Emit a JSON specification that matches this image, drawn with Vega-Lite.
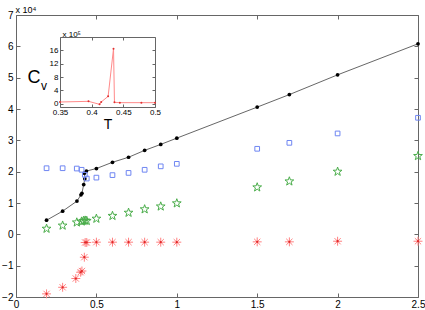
{
  "$schema": "https://vega.github.io/schema/vega-lite/v6.json",
  "width": 402,
  "height": 282,
  "autosize": {"type": "none"},
  "padding": {"left": 16, "top": 15, "right": 7, "bottom": 13},
  "background": "white",
  "config": {
    "view": {"stroke": "#666", "strokeWidth": 1},
    "font": "Liberation Sans",
    "axis": {"grid": false, "labelColor": "#000", "tickColor": "#666", "domainColor": "#666", "labelFlush": false, "titleFontWeight": "normal", "titleColor": "#000"}
  },
  "datasets": {
    "main": [
      {"s": "black", "i": 1, "T": 0.19, "C": 0.45},
      {"s": "black", "i": 2, "T": 0.29, "C": 0.74},
      {"s": "black", "i": 3, "T": 0.379, "C": 1.06},
      {"s": "black", "i": 4, "T": 0.404, "C": 1.26},
      {"s": "black", "i": 5, "T": 0.41, "C": 1.31},
      {"s": "black", "i": 6, "T": 0.421, "C": 1.59},
      {"s": "black", "i": 7, "T": 0.428, "C": 1.77},
      {"s": "black", "i": 8, "T": 0.425, "C": 1.95},
      {"s": "black", "i": 9, "T": 0.438, "C": 2.02},
      {"s": "black", "i": 10, "T": 0.5, "C": 2.1},
      {"s": "black", "i": 11, "T": 0.6, "C": 2.3},
      {"s": "black", "i": 12, "T": 0.7, "C": 2.46},
      {"s": "black", "i": 13, "T": 0.8, "C": 2.68},
      {"s": "black", "i": 14, "T": 0.9, "C": 2.87},
      {"s": "black", "i": 15, "T": 1.0, "C": 3.07},
      {"s": "black", "i": 16, "T": 1.5, "C": 4.06},
      {"s": "black", "i": 17, "T": 1.7, "C": 4.46},
      {"s": "black", "i": 18, "T": 2.0, "C": 5.09},
      {"s": "black", "i": 19, "T": 2.5, "C": 6.08},
      {"s": "blue", "T": 0.19, "C": 2.11},
      {"s": "blue", "T": 0.29, "C": 2.11},
      {"s": "blue", "T": 0.378, "C": 2.1},
      {"s": "blue", "T": 0.408, "C": 2.06},
      {"s": "blue", "T": 0.428, "C": 1.9},
      {"s": "blue", "T": 0.44, "C": 1.78},
      {"s": "blue", "T": 0.5, "C": 1.81},
      {"s": "blue", "T": 0.6, "C": 1.89},
      {"s": "blue", "T": 0.7, "C": 1.96},
      {"s": "blue", "T": 0.8, "C": 2.06},
      {"s": "blue", "T": 0.9, "C": 2.17},
      {"s": "blue", "T": 1.0, "C": 2.25},
      {"s": "blue", "T": 1.5, "C": 2.73},
      {"s": "blue", "T": 1.7, "C": 2.92},
      {"s": "blue", "T": 2.0, "C": 3.22},
      {"s": "blue", "T": 2.5, "C": 3.72},
      {"s": "green", "T": 0.19, "C": 0.18},
      {"s": "green", "T": 0.29, "C": 0.28},
      {"s": "green", "T": 0.378, "C": 0.38},
      {"s": "green", "T": 0.408, "C": 0.41},
      {"s": "green", "T": 0.42, "C": 0.43},
      {"s": "green", "T": 0.43, "C": 0.44},
      {"s": "green", "T": 0.44, "C": 0.43},
      {"s": "green", "T": 0.5, "C": 0.5},
      {"s": "green", "T": 0.6, "C": 0.59},
      {"s": "green", "T": 0.7, "C": 0.69},
      {"s": "green", "T": 0.8, "C": 0.8},
      {"s": "green", "T": 0.9, "C": 0.89},
      {"s": "green", "T": 1.0, "C": 0.99},
      {"s": "green", "T": 1.5, "C": 1.5},
      {"s": "green", "T": 1.7, "C": 1.69},
      {"s": "green", "T": 2.0, "C": 2.0},
      {"s": "green", "T": 2.5, "C": 2.5},
      {"s": "red", "T": 0.19, "C": -1.9},
      {"s": "red", "T": 0.29, "C": -1.69},
      {"s": "red", "T": 0.372, "C": -1.41},
      {"s": "red", "T": 0.402, "C": -1.21},
      {"s": "red", "T": 0.41, "C": -1.17},
      {"s": "red", "T": 0.425, "C": -0.73},
      {"s": "red", "T": 0.43, "C": -0.26},
      {"s": "red", "T": 0.44, "C": -0.26},
      {"s": "red", "T": 0.5, "C": -0.25},
      {"s": "red", "T": 0.6, "C": -0.25},
      {"s": "red", "T": 0.7, "C": -0.25},
      {"s": "red", "T": 0.8, "C": -0.25},
      {"s": "red", "T": 0.9, "C": -0.25},
      {"s": "red", "T": 1.0, "C": -0.25},
      {"s": "red", "T": 1.5, "C": -0.24},
      {"s": "red", "T": 1.7, "C": -0.24},
      {"s": "red", "T": 2.0, "C": -0.22},
      {"s": "red", "T": 2.5, "C": -0.22}
    ],
    "inset": [
      {"T": 0.35, "C": 0.5},
      {"T": 0.395, "C": 0.7},
      {"T": 0.4125, "C": -0.2},
      {"T": 0.415, "C": 0.5},
      {"T": 0.426, "C": 2.2},
      {"T": 0.4345, "C": 16.5},
      {"T": 0.436, "C": 0.4},
      {"T": 0.4445, "C": 0.3},
      {"T": 0.4785, "C": 0.3},
      {"T": 0.5, "C": 0.3}
    ]
  },
  "layer": [
    {
      "data": {"name": "main"},
      "transform": [{"filter": "datum.s === 'black'"}],
      "mark": {"type": "line", "color": "#555", "strokeWidth": 0.9},
      "encoding": {
        "x": {"field": "T", "type": "quantitative", "scale": {"domain": [0, 2.5], "nice": false, "zero": false},
          "axis": {"orient": "bottom", "values": [0, 0.5, 1, 1.5, 2, 2.5], "format": "~g", "tickSize": -4, "labelPadding": 6, "labelFontSize": 10, "domain": false, "title": null}},
        "y": {"field": "C", "type": "quantitative", "scale": {"domain": [-2, 7], "nice": false, "zero": false},
          "axis": {"orient": "left", "values": [-2, -1, 0, 1, 2, 3, 4, 5, 6, 7], "format": "~g", "tickSize": -4, "labelPadding": 7, "labelFontSize": 10, "domain": false,
            "title": "x 10⁴", "titleAngle": 0, "titleAlign": "left", "titleBaseline": "alphabetic", "titleX": -1, "titleY": -3, "titleFontSize": 9}},
        "order": {"field": "i", "type": "quantitative"}
      }
    },
    {
      "data": {"name": "main"},
      "transform": [{"filter": "datum.s === 'black'"}],
      "mark": {"type": "point", "filled": true, "color": "#000", "size": 14, "opacity": 1},
      "encoding": {
        "x": {"field": "T", "type": "quantitative", "scale": {"domain": [0, 2.5], "nice": false, "zero": false},
          "axis": {"orient": "top", "values": [0, 0.5, 1, 1.5, 2, 2.5], "labels": false, "tickSize": -4, "domain": false, "title": null}},
        "y": {"field": "C", "type": "quantitative", "scale": {"domain": [-2, 7], "nice": false, "zero": false},
          "axis": {"orient": "right", "values": [-2, -1, 0, 1, 2, 3, 4, 5, 6, 7], "labels": false, "tickSize": -4, "domain": false, "title": null}}
      }
    },
    {
      "data": {"name": "main"},
      "transform": [{"filter": "datum.s === 'blue'"}],
      "mark": {"type": "point", "shape": "square", "filled": false, "color": "#6f86f2", "size": 22, "strokeWidth": 1, "opacity": 1},
      "encoding": {
        "x": {"field": "T", "type": "quantitative", "scale": {"domain": [0, 2.5], "nice": false, "zero": false}, "axis": null},
        "y": {"field": "C", "type": "quantitative", "scale": {"domain": [-2, 7], "nice": false, "zero": false}, "axis": null}
      }
    },
    {
      "data": {"name": "main"},
      "transform": [{"filter": "datum.s === 'green'"}],
      "mark": {"type": "point", "shape": "M0,-1L0.235,-0.324L0.951,-0.309L0.38,0.124L0.588,0.809L0,0.4L-0.588,0.809L-0.38,0.124L-0.951,-0.309L-0.235,-0.324Z", "filled": false, "color": "#4aad4a", "size": 85, "strokeWidth": 1, "opacity": 1},
      "encoding": {
        "x": {"field": "T", "type": "quantitative", "scale": {"domain": [0, 2.5], "nice": false, "zero": false}, "axis": null},
        "y": {"field": "C", "type": "quantitative", "scale": {"domain": [-2, 7], "nice": false, "zero": false}, "axis": null}
      }
    },
    {
      "data": {"name": "main"},
      "transform": [{"filter": "datum.s === 'red'"}],
      "mark": {"type": "point", "shape": "M-1,0L1,0M0,-1L0,1M-0.7,-0.7L0.7,0.7M-0.7,0.7L0.7,-0.7", "filled": false, "color": "#ff8080", "size": 80, "strokeWidth": 1, "opacity": 1},
      "encoding": {
        "x": {"field": "T", "type": "quantitative", "scale": {"domain": [0, 2.5], "nice": false, "zero": false}, "axis": null},
        "y": {"field": "C", "type": "quantitative", "scale": {"domain": [-2, 7], "nice": false, "zero": false}, "axis": null}
      }
    },
    {
      "data": {"name": "main"},
      "transform": [{"filter": "datum.s === 'red'"}],
      "mark": {"type": "point", "shape": "circle", "filled": true, "color": "#e02828", "size": 5, "opacity": 1},
      "encoding": {
        "x": {"field": "T", "type": "quantitative", "scale": {"domain": [0, 2.5], "nice": false, "zero": false}, "axis": null},
        "y": {"field": "C", "type": "quantitative", "scale": {"domain": [-2, 7], "nice": false, "zero": false}, "axis": null}
      }
    },
    {
      "data": {"name": "inset"},
      "mark": {"type": "line", "color": "#ff8a8a", "strokeWidth": 1},
      "encoding": {
        "x": {"field": "T", "type": "quantitative", "scale": {"domain": [0.35, 0.5], "range": [44, 139], "nice": false, "zero": false},
          "axis": {"orient": "bottom", "offset": -190, "values": [0.35, 0.4, 0.45, 0.5], "format": "~g", "tickSize": -3, "labelPadding": 4, "labelFontSize": 8, "domain": true,
            "title": "T", "titleFontSize": 14, "titleBaseline": "top", "titleY": 10}},
        "y": {"field": "C", "type": "quantitative", "scale": {"domain": [-1, 20], "range": [92, 22], "nice": false, "zero": false},
          "axis": {"orient": "left", "offset": -44, "values": [0, 4, 8, 12, 16], "format": "~g", "tickSize": -3, "labelPadding": 5, "labelFontSize": 8, "domain": true,
            "title": "C", "titleAngle": 0, "titleFontSize": 18, "titleAlign": "center", "titleBaseline": "middle", "titleX": -26.5, "titleY": 62.5}}
      }
    },
    {
      "data": {"name": "inset"},
      "mark": {"type": "point", "filled": true, "color": "#e03030", "size": 4, "opacity": 1},
      "encoding": {
        "x": {"field": "T", "type": "quantitative", "scale": {"domain": [0.35, 0.5], "range": [44, 139], "nice": false, "zero": false},
          "axis": {"orient": "top", "offset": -22, "values": [0.35, 0.4, 0.45, 0.5], "labels": false, "tickSize": -3, "domain": true,
            "title": "x 10⁵", "titleFontSize": 8, "titleAngle": 0, "titleAlign": "left", "titleBaseline": "alphabetic", "titleX": 46, "titleY": -1}},
        "y": {"field": "C", "type": "quantitative", "scale": {"domain": [-1, 20], "range": [92, 22], "nice": false, "zero": false},
          "axis": {"orient": "right", "offset": -263, "values": [0, 4, 8, 12, 16], "labels": false, "tickSize": -3, "domain": true,
            "title": "v", "titleAngle": 0, "titleFontSize": 12, "titleAlign": "center", "titleBaseline": "middle", "titleX": -111.5, "titleY": 70}}
      }
    }
  ],
  "resolve": {"scale": {"x": "independent", "y": "independent"}, "axis": {"x": "independent", "y": "independent"}}
}
